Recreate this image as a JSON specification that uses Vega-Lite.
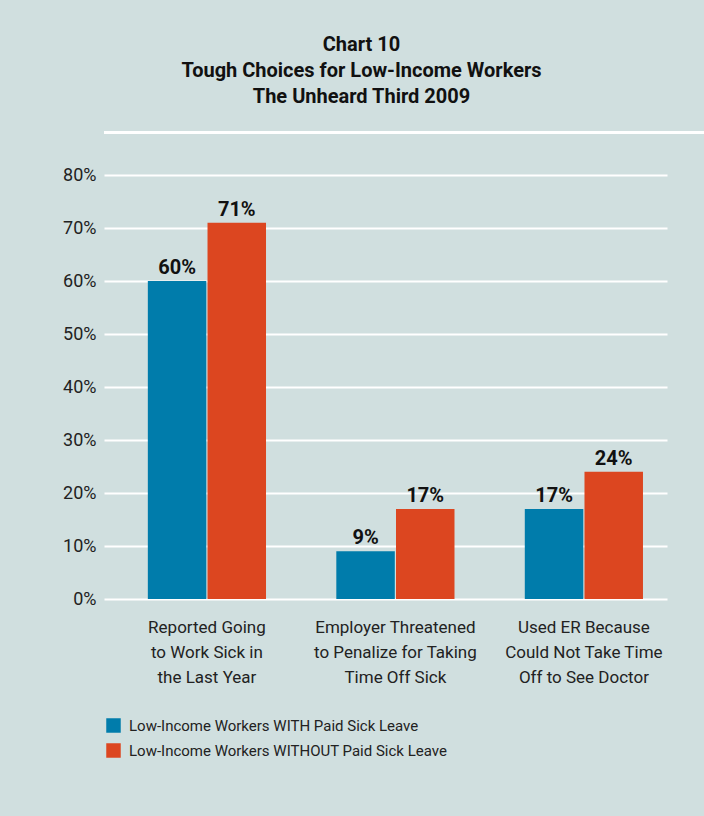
{
  "$schema": "https://vega.github.io/schema/vega-lite/v6.json",
  "width": 563,
  "height": 424,
  "autosize": {"type": "none"},
  "padding": {"left": 104, "top": 175, "right": 37, "bottom": 217},
  "background": "#D0DFDF",
  "title": {
    "text": ["Chart 10", "Tough Choices for Low-Income Workers", "The Unheard Third 2009"],
    "anchor": "middle",
    "frame": "group",
    "dx": -24,
    "offset": 24,
    "fontSize": 20,
    "lineHeight": 26,
    "font": "Roboto",
    "fontWeight": "bold",
    "color": "#111111"
  },
  "config": {
    "view": {"stroke": null},
    "axis": {"labelFont": "Roboto"},
    "legend": {"labelFont": "Roboto"},
    "text": {"font": "Roboto"}
  },
  "data": {
    "values": [
      {"cat": "Reported Going|to Work Sick in|the Last Year", "group": "Low-Income Workers WITH Paid Sick Leave", "value": 0.60},
      {"cat": "Reported Going|to Work Sick in|the Last Year", "group": "Low-Income Workers WITHOUT Paid Sick Leave", "value": 0.71},
      {"cat": "Employer Threatened|to Penalize for Taking|Time Off Sick", "group": "Low-Income Workers WITH Paid Sick Leave", "value": 0.09},
      {"cat": "Employer Threatened|to Penalize for Taking|Time Off Sick", "group": "Low-Income Workers WITHOUT Paid Sick Leave", "value": 0.17},
      {"cat": "Used ER Because|Could Not Take Time|Off to See Doctor", "group": "Low-Income Workers WITH Paid Sick Leave", "value": 0.17},
      {"cat": "Used ER Because|Could Not Take Time|Off to See Doctor", "group": "Low-Income Workers WITHOUT Paid Sick Leave", "value": 0.24}
    ]
  },
  "encoding": {
    "x": {
      "field": "cat",
      "type": "nominal",
      "sort": null,
      "scale": {"paddingInner": 0.373, "paddingOuter": 0.18, "align": 0.646},
      "axis": {
        "title": null,
        "labelAngle": 0,
        "labelExpr": "split(datum.label, '|')",
        "labelFontSize": 17,
        "labelLineHeight": 25,
        "labelPadding": 20,
        "labelColor": "#222222",
        "labelBaseline": "top",
        "ticks": false,
        "domain": false
      }
    },
    "xOffset": {"field": "group", "type": "nominal", "sort": null, "scale": {"paddingInner": 0.02}},
    "y": {
      "field": "value",
      "type": "quantitative",
      "scale": {"domain": [0, 0.8]},
      "axis": {
        "title": null,
        "format": ".0%",
        "values": [0, 0.1, 0.2, 0.3, 0.4, 0.5, 0.6, 0.7, 0.8],
        "grid": true,
        "gridColor": "#FFFFFF",
        "gridWidth": 2,
        "gridOpacity": 1,
        "domain": false,
        "ticks": false,
        "labelPadding": 8,
        "labelFontSize": 18,
        "labelColor": "#222222"
      }
    }
  },
  "layer": [
    {
      "mark": {"type": "bar"},
      "encoding": {
        "color": {
          "field": "group",
          "type": "nominal",
          "sort": null,
          "scale": {
            "domain": ["Low-Income Workers WITH Paid Sick Leave", "Low-Income Workers WITHOUT Paid Sick Leave"],
            "range": ["#007CAB", "#DC4620"]
          },
          "legend": {
            "title": null,
            "orient": "none",
            "legendX": 2,
            "legendY": 543,
            "padding": 0,
            "symbolType": "square",
            "symbolSize": 210,
            "symbolStrokeWidth": 0,
            "symbolOpacity": 1,
            "labelFontSize": 15,
            "labelOffset": 8,
            "labelColor": "#222222",
            "rowPadding": 9,
            "labelLimit": 400
          }
        }
      }
    },
    {
      "mark": {"type": "text", "baseline": "bottom", "dy": -3, "fontSize": 20, "fontWeight": "bold", "color": "#111111"},
      "encoding": {
        "text": {"field": "value", "type": "quantitative", "format": ".0%"}
      }
    },
    {
      "data": {"values": [{"line": 0.88}]},
      "mark": {"type": "rule", "color": "#FFFFFF", "strokeWidth": 3, "xOffset": 37},
      "encoding": {
        "y": {"field": "line", "type": "quantitative"},
        "x": null,
        "xOffset": null
      }
    }
  ]
}
